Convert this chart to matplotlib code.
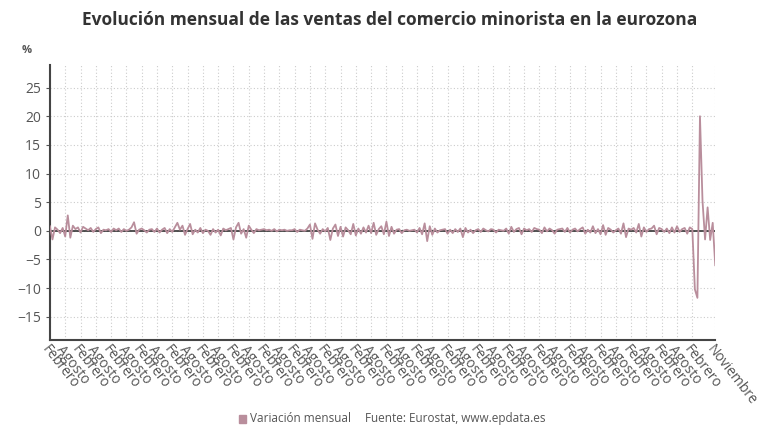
import numpy as np
import pandas as pd
import matplotlib
matplotlib.use('Agg')
import matplotlib.pyplot as plt

plt.rcParams['font.family'] = ['Open Sans', 'DejaVu Sans']

# variación mensual (%) de febrero 1999 a noviembre 2020
v1999 = [0.8, -1.5, 0.6, 0.2, -0.4, 0.5, -1.0, 2.7, -1.2, 0.9, 0.3]
v2000 = [0.6, -0.3, 0.7, 0.4, 0.1, 0.5, -0.2, 0.3, 0.6, -0.4, 0.2, 0.1]
v2001 = [0.3, -0.2, 0.4, 0.1, 0.4, -0.2, 0.3, 0.0, 0.2, 0.6, 1.5, -0.5]
v2002 = [0.2, 0.4, 0.1, -0.3, 0.2, 0.3, -0.2, 0.4, -0.3, 0.2, 0.5, -0.4]
v2003 = [0.3, -0.2, 0.6, 1.4, 0.2, 0.9, -0.7, 0.3, 1.2, -0.6, 0.2, -0.3]
v2004 = [0.5, -0.4, 0.2, 0.0, -0.7, 0.3, -0.3, 0.2, -0.8, 0.4, 0.1, 0.3]
v2005 = [0.5, -1.5, 0.6, 1.4, -0.5, 0.3, -1.2, 0.9, 0.2, -0.4, 0.3, 0.1]
v2006 = [0.2, 0.3, 0.1, 0.2, 0.0, 0.3, -0.1, 0.2, 0.1, 0.2, 0.0, 0.1]
v2007 = [0.1, 0.3, -0.2, 0.2, 0.1, 0.0, 0.4, 1.1, -1.4, 1.3, 0.2, -0.5]
v2008 = [0.3, -0.1, 0.5, -1.6, 0.4, 1.1, -0.9, 0.7, -1.0, 0.6, 0.1, -0.6]
v2009 = [1.2, -0.8, 0.4, -0.5, 0.6, -0.3, 0.9, -0.4, 1.4, -0.7, 0.3, 0.8]
v2010 = [-0.6, 1.6, -0.9, 0.7, -0.5, 0.2, 0.3, -0.4, 0.1, 0.2, 0.0, 0.1]
v2011 = [0.2, -0.3, 0.5, -0.6, 1.3, -1.8, 0.8, -0.7, 0.4, -0.3, 0.1, 0.2]
v2012 = [0.3, -0.5, 0.2, -0.4, 0.3, -0.2, 0.4, -1.1, 0.5, -0.3, 0.2, -0.4]
v2013 = [0.1, 0.3, -0.2, 0.4, 0.1, -0.1, 0.3, 0.2, -0.3, 0.2, 0.1, 0.0]
v2014 = [0.4, -0.5, 0.7, -0.2, 0.3, 0.5, -0.6, 0.4, 0.1, 0.3, -0.2, 0.5]
v2015 = [0.3, 0.2, -0.4, 0.6, -0.1, 0.4, 0.1, -0.5, 0.2, 0.3, 0.4, -0.2]
v2016 = [0.5, -0.3, 0.2, 0.4, -0.1, 0.3, 0.6, -0.5, 0.2, -0.3, 0.8, -0.4]
v2017 = [0.3, -0.6, 1.0, -0.7, 0.5, 0.2, -0.3, 0.1, 0.4, -0.5, 1.3, -1.1]
v2018 = [0.4, 0.2, 0.5, -0.3, 1.2, -1.0, 0.6, -0.2, 0.3, 0.4, 0.9, -0.6]
v2019 = [0.5, 0.3, -0.2, 0.4, -0.4, 0.6, -0.3, 0.8, -0.2, 0.3, 0.5, -0.5]
v2020 = [0.6, 0.3, -10.2, -11.7, 20.0, 5.2, -1.5, 4.1, -1.6, 1.4, -6.0]

valores = (v1999 + v2000 + v2001 + v2002 + v2003 + v2004 + v2005 + v2006 +
           v2007 + v2008 + v2009 + v2010 + v2011 + v2012 + v2013 + v2014 +
           v2015 + v2016 + v2017 + v2018 + v2019 + v2020)
fechas = pd.date_range('1999-02-01', periods=len(valores), freq='MS')

meses = {2: 'Febrero', 8: 'Agosto', 11: 'Noviembre'}
y_ticks = [-15, -10, -5, 0, 5, 10, 15, 20, 25]

color_linea = '#b98e9c'
gris = '#555555'

fig = plt.figure(figsize=(7.8, 4.4), dpi=100)
ax = fig.add_axes([0.064, 0.228, 0.853, 0.625])

x = np.arange(len(valores))
ax.axhline(0, color='#333333', lw=1.2, zorder=2)
ax.plot(x, valores, color=color_linea, lw=1.3, zorder=3)

# ticks cada 6 meses (febrero/agosto) hasta febrero 2020 y el último mes
n = len(valores)
tick_pos = [i for i, f in enumerate(fechas) if f.month in (2, 8) and i < n - 6]
tick_pos.append(n - 1)
tick_lab = [meses[fechas[i].month] for i in tick_pos]
ax.set_xticks(tick_pos)
ax.set_xticklabels(tick_lab, rotation=-52, ha='left', va='top',
                   rotation_mode='anchor', fontsize=10, color=gris)
ax.set_xlim(0, n - 1)
ax.set_ylim(-19, 29)
ax.set_yticks(y_ticks)
ax.tick_params(axis='y', labelsize=10, colors=gris, length=3)
ax.tick_params(axis='x', length=0, pad=2)

ax.grid(True, color='#cccccc', ls=(0, (1, 2)), lw=0.8)
for s in ['top', 'right']:
    ax.spines[s].set_visible(False)
for s in ['left', 'bottom']:
    ax.spines[s].set_color('#444444')
    ax.spines[s].set_linewidth(1.5)

fig.text(0.5, 0.955, 'Evolución mensual de las ventas del comercio minorista en la eurozona',
         ha='center', va='center', fontsize=12.5, fontweight='bold', color='#333333')
fig.text(0.028, 0.885, '%', fontsize=8, fontweight='bold', color=gris, va='center')

fig.patches.append(plt.Rectangle((0.306, 0.039), 0.009, 0.018, transform=fig.transFigure,
                                 color=color_linea, figure=fig))
fig.text(0.321, 0.048, 'Variación mensual', fontsize=8.5, color=gris, va='center')
fig.text(0.468, 0.048, 'Fuente: Eurostat, www.epdata.es', fontsize=8.5, color=gris, va='center')

fig.savefig('out.png', dpi=100)
